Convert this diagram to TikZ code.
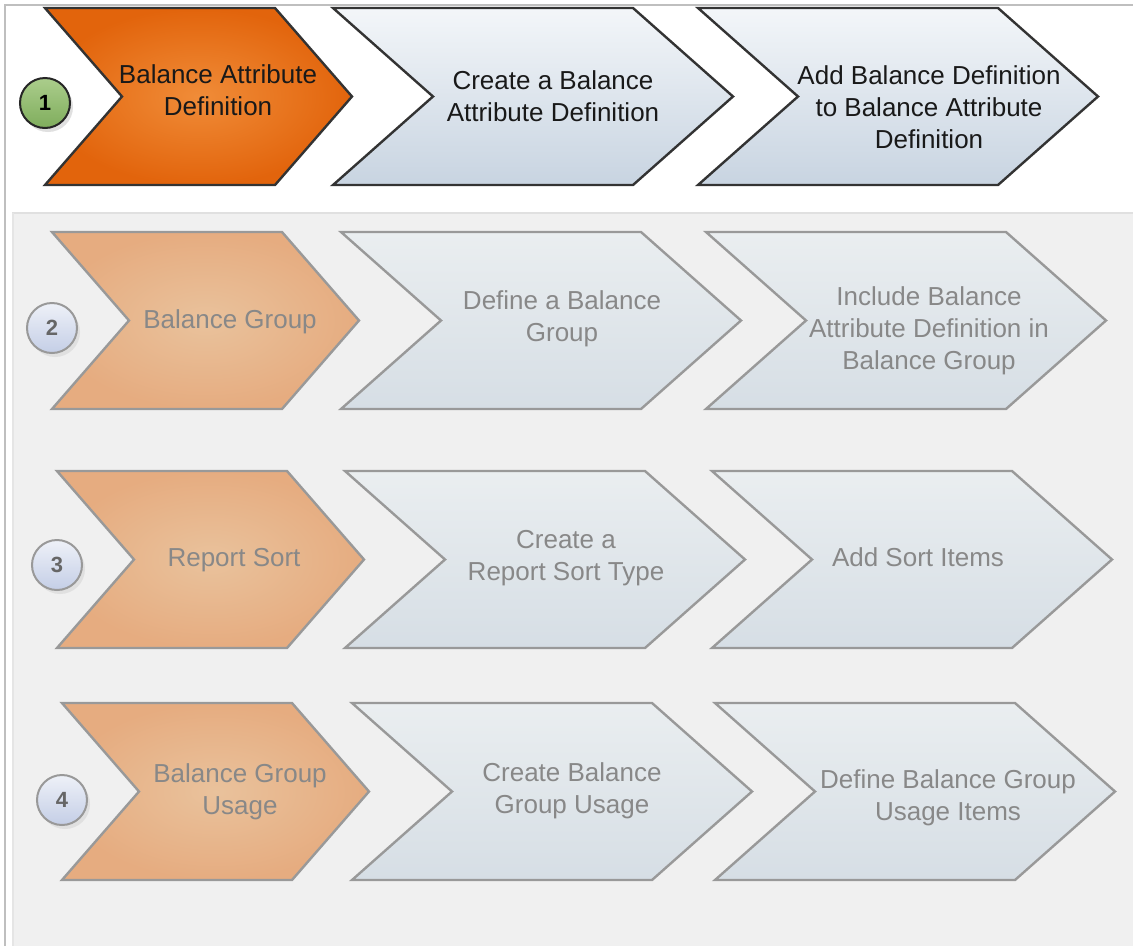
\documentclass[tikz,border=0pt]{standalone}
\usepackage{fontspec}
\setmainfont{Liberation Sans}
\usetikzlibrary{positioning}

\definecolor{hotout}{HTML}{E2640C}
\definecolor{hotin}{HTML}{F08C38}
\definecolor{dimout}{HTML}{E6AC80}
\definecolor{dimin}{HTML}{E9C29C}
\definecolor{bluetop}{HTML}{F3F6F9}
\definecolor{bluebot}{HTML}{C8D4E1}
\definecolor{greytop}{HTML}{EAEEF0}
\definecolor{greybot}{HTML}{D6DEE5}
\definecolor{panel}{HTML}{F0F0F0}
\definecolor{dimtext}{HTML}{888888}
\definecolor{dimline}{HTML}{999999}
\definecolor{greentop}{HTML}{ABCD8C}
\definecolor{greenbot}{HTML}{7FAD5C}
\definecolor{dottop}{HTML}{EEF1F8}
\definecolor{dotbot}{HTML}{C4CEE6}

% chevron: style, left x, top y, width, depth
\newcommand{\chev}[5]{%
  \path[#1] (#2,#3) -- ++(#4-#5,0) -- ++(#5,88.5) -- ++(-#5,88.5)
    -- ++(-#4+#5,0) -- ++(#5,-88.5) -- cycle;}

\begin{document}
\begin{tikzpicture}[x=1pt,y=-1pt,
  hotchev/.style={draw=black!80,line width=2.4pt,inner color=hotin,outer color=hotout},
  bluechev/.style={draw=black!80,line width=2.4pt,top color=bluetop,bottom color=bluebot},
  dimhot/.style={draw=dimline,line width=2.4pt,inner color=dimin,outer color=dimout},
  dimblue/.style={draw=dimline,line width=2.4pt,top color=greytop,bottom color=greybot},
  lbl/.style={align=center,font=\fontsize{26}{32}\selectfont,text=black!90},
  dimlbl/.style={lbl,text=dimtext},
  numdot/.style={circle,minimum size=50pt,inner sep=0pt,line width=2pt,
    font=\fontsize{22}{24}\selectfont\bfseries},
  dimdot/.style={numdot,draw=dimline,top color=dottop,bottom color=dotbot,text=black!60},
  shadow/.style={fill=black!12,circle,minimum size=50pt,inner sep=0pt}]
\useasboundingbox (0,0) rectangle (1133,946);
\fill[white] (0,0) rectangle (1133,946);

% frame and grey panel
\fill[panel] (12,213) rectangle (1133,946);
\draw[black!12,line width=2pt] (12,213) -- (1133,213);
\draw[black!10,line width=1.5pt] (13,213) -- (13,946);
\draw[black!25,line width=1.5pt] (5,946) -- (5,5) -- (1133,5);

% row 1
\chev{hotchev}{45}{8}{307}{77}
\chev{bluechev}{333}{8}{400}{100}
\chev{bluechev}{698}{8}{400}{100}
\node[shadow] at (48,107) {};
\node[numdot,draw=black!85,top color=greentop,bottom color=greenbot] (n1) at (45,103) {1};
\node[lbl] (t11) at (218,90) {Balance Attribute\\Definition};
\node[lbl] (t12) at (553,96) {Create a Balance\\Attribute Definition};
\node[lbl] (t13) at (929,107) {Add Balance Definition\\to Balance Attribute\\Definition};

% row 2
\chev{dimhot}{52}{232}{307}{77}
\chev{dimblue}{341}{232}{400}{100}
\chev{dimblue}{706}{232}{400}{100}
\node[shadow] at (55,332) {};
\node[dimdot] (n2) at (52,328) {2};
\node[dimlbl] (t21) at (230,322) {Balance Group};
\node[dimlbl] (t22) at (562,319) {Define a Balance\\Group};
\node[dimlbl] (t23) at (929,331) {Include Balance\\Attribute Definition in\\Balance Group};

% row 3
\chev{dimhot}{57}{471}{307}{77}
\chev{dimblue}{345}{471}{400}{100}
\chev{dimblue}{712}{471}{400}{100}
\node[shadow] at (60,569) {};
\node[dimdot] (n3) at (57,565) {3};
\node[dimlbl] (t31) at (234,560) {Report Sort};
\node[dimlbl] (t32) at (566,558) {Create a\\Report Sort Type};
\node[dimlbl] (t33) at (918,557) {Add Sort Items};

% row 4
\chev{dimhot}{62}{703}{307}{77}
\chev{dimblue}{352}{703}{400}{100}
\chev{dimblue}{715}{703}{400}{100}
\node[shadow] at (65,804) {};
\node[dimdot] (n4) at (62,800) {4};
\node[dimlbl] (t41) at (240,792) {Balance Group\\Usage};
\node[dimlbl] (t42) at (572,791) {Create Balance\\Group Usage};
\node[dimlbl] (t43) at (948,798) {Define Balance Group\\Usage Items};
\end{tikzpicture}
\end{document}
